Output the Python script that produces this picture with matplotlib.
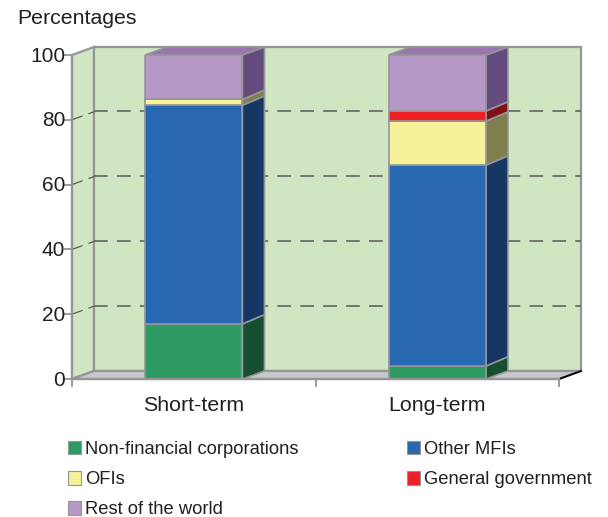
import matplotlib
matplotlib.use("Agg")
import matplotlib.pyplot as plt
from matplotlib.patches import Polygon, Patch
from matplotlib.transforms import ScaledTranslation
import numpy as np

plt.rcParams["font.family"] = ["Liberation Sans", "DejaVu Sans"]
plt.rcParams["text.color"] = "#231f20"

categories = ["Short-term", "Long-term"]
series_names = ["Non-financial corporations", "Other MFIs", "OFIs", "General government", "Rest of the world"]
short_term = [17.0, 67.5, 1.8, 0.0, 13.7]
long_term = [4.0, 62.0, 13.6, 3.1, 17.3]
y_ticks = [0, 20, 40, 60, 80, 100]

front = ["#2e9b63", "#2868b0", "#f7f299", "#ee2024", "#b698c6"]
side = ["#164e30", "#163764", "#7f7f4d", "#7f1014", "#644b7e"]
top_colour = "#9b75ae"
wall = "#d0e6c3"
floor = "#c6c8ca"
edge = "#939598"

W, H = 608, 517
fig = plt.figure(figsize=(W / 100, H / 100), dpi=100)
# axes = front plane of the fake 3d box
ax = fig.add_axes([72 / W, 1 - 379 / H, (559 - 72) / W, (379 - 55) / H])
ax.set_xlim(0, 2)
ax.set_ylim(0, 100)
ax.patch.set_visible(False)

# depth offset in data units
dx = 22 / (559 - 72) * 2
dy = 8 / 3.24
# inner bar boundaries sit a bit higher at the back in the source
inner_dy = 9.3 / 3.24


def poly(pts, fc, ec=edge, lw=1.2, z=1):
    ax.add_patch(Polygon(pts, closed=True, facecolor=fc, edgecolor=ec, linewidth=lw,
                         zorder=z, clip_on=False, joinstyle="miter"))


# walls
poly([(0, 0), (dx, dy), (dx, 100 + dy), (0, 100)], wall, lw=1.6)
poly([(dx, dy), (2 + dx, dy), (2 + dx, 100 + dy), (dx, 100 + dy)], wall, lw=1.6)
poly([(0, 0), (dx, dy), (2 + dx, dy), (2, 0)], floor, lw=1.6)
ax.plot([2, 2 + dx], [0, dy], color="black", lw=1.3, zorder=2, clip_on=False)

# gridlines
for v in y_ticks[1:-1]:
    ax.plot([dx, 2 + dx], [v + dy + 0.2, v + dy + 0.2], color="#58595b", lw=1.1, dashes=(9, 6), zorder=2, clip_on=False)
    ax.plot([0, dx], [v, v + dy], color="#58595b", lw=0.9, dashes=(9, 5), zorder=2, clip_on=False)

# bars
width = 0.4
centres = np.array([0.5, 1.5])
for c, vals in zip(centres, [short_term, long_term]):
    x0, x1 = c - width / 2, c + width / 2
    bottom = 0
    for i, v in enumerate(vals):
        if v == 0:
            continue
        b, t = bottom, bottom + v
        back_b = b + (dy if b == 0 else inner_dy)
        back_t = t + (dy if t >= 99.9 else inner_dy)
        poly([(x1, b), (x1 + dx, back_b), (x1 + dx, back_t), (x1, t)], side[i], z=3)
        ax.bar(c, v, width=width, bottom=b, color=front[i], edgecolor=edge, linewidth=1.2, zorder=4)
        bottom = t
    poly([(x0, bottom), (x0 + dx, bottom + dy), (x1 + dx, bottom + dy), (x1, bottom)], top_colour, z=3)

# axes
for s in ["top", "right"]:
    ax.spines[s].set_visible(False)
for s in ["left", "bottom"]:
    ax.spines[s].set_color(edge)
    ax.spines[s].set_linewidth(1.6)
    ax.spines[s].set_zorder(5)
ax.set_yticks(y_ticks)
ax.tick_params(axis="y", labelsize=15, length=6, width=1.3, color=edge, pad=-1, labelcolor="#231f20")
shift = ScaledTranslation(0, 1 / 100, fig.dpi_scale_trans)
for lab in ax.get_yticklabels():
    lab.set_transform(lab.get_transform() + shift)
ax.set_xticks([0, 1, 2])
ax.set_xticklabels([])
ax.tick_params(axis="x", length=6, width=1.3, color=edge)
ax.set_xticks(centres, minor=True)
ax.set_xticklabels(categories, minor=True, fontsize=15.4, color="#231f20")
ax.tick_params(axis="x", which="minor", length=0, pad=12)

fig.text(17 / W, 1 - 19 / H, "Percentages", fontsize=15.3, ha="left", va="center")

# legend, filled by column so the rows read as in the source
order = [0, 2, 4, 1, 3]
handles = [Patch(facecolor=front[i], edgecolor=edge, linewidth=0.8, label=series_names[i]) for i in order]
fig.legend(handles=handles, ncol=2, loc="upper left", bbox_to_anchor=(68 / W, 1 - 441 / H),
           frameon=False, fontsize=13.2, handlelength=0.72, handleheight=0.75, handletextpad=0.22,
           columnspacing=5.9, labelspacing=0.71, borderpad=0, borderaxespad=0)

fig.savefig("out.png", dpi=100)
